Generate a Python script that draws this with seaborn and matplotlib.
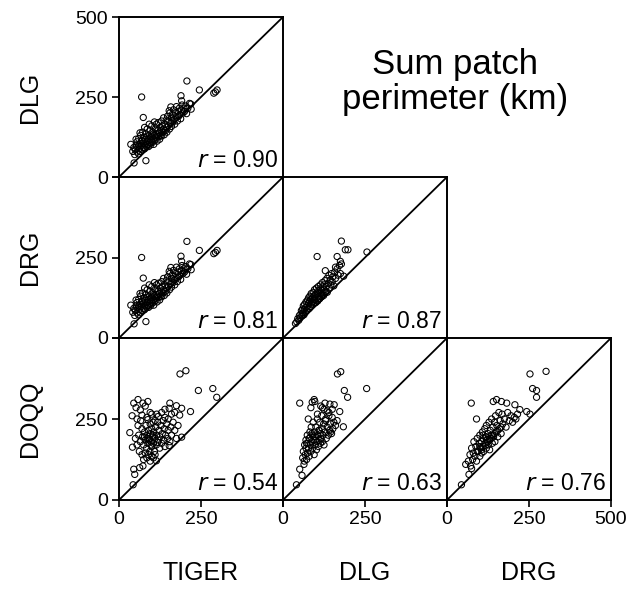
import matplotlib
matplotlib.use("Agg")
import matplotlib.pyplot as plt
import seaborn as sns
import pandas as pd

# ---------------- data (km) ----------------
row_labels = ["DLG", "DRG", "DOQQ"]
col_labels = ["TIGER", "DLG", "DRG"]
r_values = {("DLG", "TIGER"): "0.90", ("DRG", "TIGER"): "0.81", ("DRG", "DLG"): "0.87",
            ("DOQQ", "TIGER"): "0.54", ("DOQQ", "DLG"): "0.63", ("DOQQ", "DRG"): "0.76"}
title = "Sum patch\nperimeter (km)"
ticks = [0, 250, 500]
one_to_one = [0, 500]

# DLG vs TIGER
tiger_dlg_x = [69, 207, 245, 189, 191, 289, 299, 294, 219, 158, 153, 74, 36, 46, 82,
               42, 45, 48, 50, 52, 55, 55, 58, 60, 60, 62, 64, 65, 66, 68, 70, 70, 72, 74, 75,
               76, 78, 80, 80, 82, 84, 85, 86, 88, 90, 90, 92, 94, 95, 96, 98, 100, 100, 102, 104,
               105, 106, 108, 110, 110, 112, 114, 115, 116, 118, 120, 120, 122, 124, 125, 126, 128,
               130, 130, 132, 134, 135, 136, 138, 140, 142, 144, 145, 146, 148, 150, 152, 154, 155,
               158, 160, 160, 162, 165, 166, 168, 170, 172, 174, 175, 178, 180, 182, 184, 185, 188,
               190, 192, 195, 198, 200, 204, 206, 210, 215, 220, 60, 70, 85, 95, 105, 115,
               52, 64, 78, 92, 108]
tiger_dlg_y = [250, 300, 272, 254, 238, 262, 272, 266, 228, 219, 207, 186, 102, 44, 51,
               80, 92, 70, 85, 100, 78, 110, 95, 72, 120, 88, 105, 80, 130, 98, 85, 115, 140, 92, 105,
               125, 88, 100, 118, 135, 95, 110, 150, 102, 120, 95, 130, 108, 145, 100, 115, 125, 160, 108, 140,
               118, 102, 130, 150, 115, 125, 165, 135, 112, 145, 125, 170, 138, 118, 155, 130, 145,
               128, 175, 160, 140, 150, 185, 132, 165, 145, 178, 155, 140, 190, 160, 175, 150, 200,
               170, 185, 158, 195, 172, 210, 180, 165, 200, 188, 220, 175, 205, 190, 215, 195, 182,
               210, 225, 200, 215, 205, 222, 198, 215, 230, 212, 100, 112, 125, 118, 135, 128,
               118, 138, 155, 165, 172]

# DRG vs TIGER
tiger_drg_x = list(tiger_dlg_x)
tiger_drg_y = list(tiger_dlg_y)

# DRG vs DLG
dlg_drg_x = [38, 42, 45, 48, 50, 52, 55, 56, 58, 60, 60, 62, 64, 65, 66, 68, 70, 70, 72, 74, 75,
             76, 78, 78, 80, 82, 82, 84, 85, 86, 88, 90, 90, 92, 94, 95, 96, 98, 100, 100, 102, 104,
             105, 106, 108, 110, 110, 112, 114, 115, 116, 118, 120, 120, 122, 124, 125, 126, 128,
             130, 132, 134, 135, 138, 140, 142, 144, 146, 148, 150, 152, 155, 158, 160, 165, 168,
             172, 175, 178, 185, 160, 129, 104, 178, 190, 198, 165, 175, 256, 88, 96, 108, 118, 128]
dlg_drg_y = [45, 50, 60, 55, 70, 62, 75, 85, 68, 90, 78, 100, 72, 88, 105, 80, 95, 112, 85, 100, 118,
             90, 108, 125, 92, 115, 130, 98, 120, 138, 105, 125, 112, 142, 108, 130, 150, 118, 135, 110, 155, 125,
             140, 115, 160, 130, 148, 122, 165, 138, 150, 128, 158, 172, 140, 132, 165, 150, 178,
             145, 160, 185, 142, 170, 195, 155, 180, 165, 200, 175, 190, 162, 205, 185, 215, 195,
             225, 200, 230, 192, 220, 209, 253, 301, 274, 274, 253, 238, 267, 112, 118, 122, 135, 140]

# DOQQ vs TIGER
tiger_doqq_x = [45, 58, 73, 88, 52, 65, 80, 95, 40, 55, 70, 85, 100, 110, 120, 130, 140, 150, 160,
                155, 175, 191, 153, 170, 185, 218, 186, 204, 242, 286, 298,
                33, 41, 45, 48, 63, 73, 43, 114, 153, 191,
                60, 65, 70, 72, 75, 78, 80, 82, 84, 85, 88, 90, 92, 94, 95, 96, 98, 100, 100, 102,
                104, 105, 106, 108, 110, 112, 114, 115, 118, 120, 122, 124, 125, 128, 130, 132, 135,
                136, 138, 140, 142, 145, 148, 150, 155, 158, 160, 165, 170, 175, 180,
                70, 75, 80, 85, 90, 95, 100, 105, 110, 62, 55, 50, 58, 66, 88, 115, 140,
                78, 92, 104, 118, 86, 98]
tiger_doqq_y = [299, 310, 299, 304, 285, 278, 290, 270, 260, 250, 262, 255, 265, 245, 258, 270, 280, 250, 265,
                299, 291, 283, 283, 270, 262, 273, 389, 399, 338, 344, 317,
                208, 163, 95, 79, 100, 105, 47, 121, 168, 194,
                200, 180, 220, 195, 170, 210, 185, 230, 160, 200, 175, 215, 190, 150, 235, 205, 180, 165, 220, 195,
                240, 175, 210, 150, 190, 225, 170, 200, 240, 185, 215, 160, 195, 230, 175, 205, 245,
                185, 220, 165, 200, 235, 190, 215, 180, 225, 200, 240, 215, 190, 230,
                140, 125, 145, 130, 140, 120, 135, 130, 140, 150, 170, 190, 230, 245, 248, 265, 255,
                195, 185, 200, 178, 190, 170]

# DOQQ vs DLG
dlg_doqq_x = [166, 176, 255, 187, 197, 51, 95, 97, 89, 128, 143, 156, 173, 77, 184, 41, 58, 51, 64,
              60, 62, 65, 66, 68, 70, 70, 72, 74, 75, 76, 78, 80, 80, 82, 84, 85, 86, 88, 90, 90, 92,
              94, 95, 96, 98, 100, 100, 102, 104, 105, 106, 108, 110, 110, 112, 114, 115, 116, 118,
              120, 120, 122, 124, 125, 128, 130, 132, 135, 138, 140, 142, 145, 148, 150, 152, 155,
              160, 165, 110, 120, 135, 105, 115, 125, 85, 95, 72, 80, 88, 100, 140, 150, 130, 145]
dlg_doqq_y = [389, 396, 344, 338, 317, 299, 310, 304, 302, 299, 296, 294, 273, 250, 226, 47, 76, 95, 110,
              130, 150, 120, 170, 140, 160, 185, 125, 200, 145, 175, 160, 190, 135, 210, 170, 150, 225, 180, 200,
              160, 240, 185, 140, 210, 170, 195, 225, 155, 180, 250, 200, 165, 215, 185, 240, 175, 205,
              190, 260, 220, 180, 200, 235, 170, 210, 250, 190, 225, 200, 270, 215, 235, 205, 255,
              220, 240, 230, 245, 215, 285, 275, 265, 290, 280, 285, 195, 175, 190, 205, 185, 260, 280, 245, 210]

# DOQQ vs DRG
drg_doqq_x = [253, 302, 261, 273, 273, 74, 90, 141, 151, 166, 182, 207, 222, 243, 253, 44, 67, 75, 57,
              65, 70, 72, 75, 78, 80, 82, 85, 88, 90, 92, 95, 98, 100, 100, 102, 105, 106, 108, 110, 110,
              112, 115, 116, 118, 120, 120, 122, 125, 126, 128, 130, 130, 132, 135, 136, 138, 140, 142,
              145, 146, 148, 150, 152, 155, 158, 160, 162, 165, 168, 170, 175, 180, 185, 190, 195, 200,
              205, 210, 215, 125, 135, 110, 145, 155, 165, 100, 118, 130, 140, 92, 105, 120]
drg_doqq_y = [389, 397, 344, 338, 317, 299, 250, 304, 310, 304, 299, 294, 279, 273, 265, 47, 79, 97, 110,
              120, 140, 105, 160, 125, 145, 180, 135, 165, 120, 190, 150, 175, 135, 200, 160, 180, 145, 210,
              165, 190, 150, 220, 175, 195, 160, 230, 185, 205, 170, 240, 190, 155, 215, 200, 250, 175,
              225, 195, 240, 180, 260, 210, 230, 195, 270, 220, 245, 205, 265, 235, 250, 225, 270,
              245, 260, 240, 255, 250, 265, 180, 190, 200, 205, 215, 225, 165, 170, 185, 200, 150, 155, 195]

panels = {
    (0, 0): (tiger_dlg_x, tiger_dlg_y),
    (1, 0): (tiger_drg_x, tiger_drg_y),
    (1, 1): (dlg_drg_x, dlg_drg_y),
    (2, 0): (tiger_doqq_x, tiger_doqq_y),
    (2, 1): (dlg_doqq_x, dlg_doqq_y),
    (2, 2): (drg_doqq_x, drg_doqq_y),
}

# ---------------- figure ----------------
sns.set_theme(style="white")
plt.rcParams["font.family"] = ["Liberation Sans", "DejaVu Sans"]

W, H = 629, 589
fig = plt.figure(figsize=(W / 100, H / 100), dpi=100)
fig.patch.set_facecolor("white")

col_left = [119, 283, 447]
col_w = 164
row_top = [17, 177, 338]
row_h = [160, 161, 162]

for (ri, ci), (xs, ys) in panels.items():
    left = col_left[ci] / W
    bottom = 1 - (row_top[ri] + row_h[ri]) / H
    ax = fig.add_axes([left, bottom, col_w / W, row_h[ri] / H])
    df = pd.DataFrame({"x": xs, "y": ys})
    sns.lineplot(x=one_to_one, y=one_to_one, ax=ax, color="black", linewidth=1.3)
    sns.scatterplot(data=df, x="x", y="y", ax=ax, marker="o", s=20,
                    facecolors="none", edgecolor="black", linewidth=0.75)
    ax.set_xlim(0, 500)
    ax.set_ylim(0, 500)
    ax.set_xlabel("")
    ax.set_ylabel("")
    for sp in ax.spines.values():
        sp.set_color("black")
        sp.set_linewidth(1.4)
    ax.set_xticks(ticks)
    ax.set_yticks(ticks)
    ax.tick_params(axis="both", direction="out", length=5, width=1.2, color="black",
                   labelsize=14, labelcolor="black", pad=3)
    if ci == 0:
        ax.tick_params(axis="y", left=True)
        ax.set_yticklabels(["0", "250", "500"] if ri == 0 else ["0", "250", ""])
        ax.set_ylabel(row_labels[ri], fontsize=18, labelpad=24, color="black")
    else:
        ax.tick_params(axis="y", left=False, labelleft=False)
    if ri == 2:
        ax.tick_params(axis="x", bottom=True)
        ax.set_xticklabels(["0", "250", "500"] if ci == 2 else ["0", "250", ""])
        ax.set_xlabel(col_labels[ci], fontsize=18, labelpad=24, color="black")
    else:
        ax.tick_params(axis="x", bottom=False, labelbottom=False)
    key = (row_labels[ri], col_labels[ci])
    ax.text(0.97, 0.03, r"$\mathit{r}$ = " + r_values[key], transform=ax.transAxes,
            ha="right", va="bottom", fontsize=16.5, color="black")

fig.text(455 / W, 1 - 82 / H, title, ha="center", va="center", fontsize=25,
         linespacing=1.05, color="black")

fig.savefig("out.png", dpi=100, facecolor="white")
